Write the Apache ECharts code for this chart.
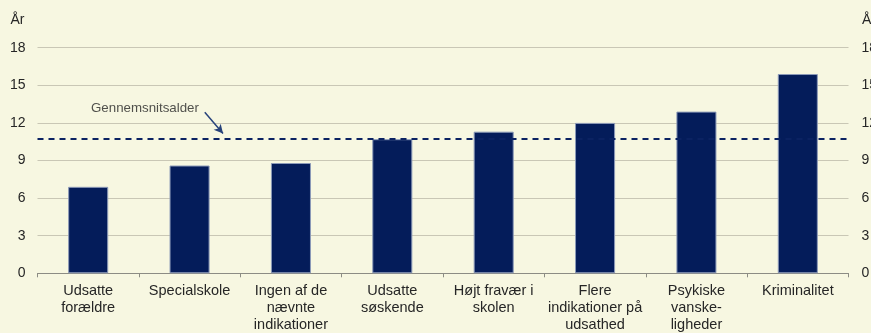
<!DOCTYPE html>
<html><head><meta charset="utf-8">
<script src="https://cdn.jsdelivr.net/npm/echarts@6/dist/echarts.min.js"></script>
<style>html,body{margin:0;padding:0;background:#f7f7e1;overflow:hidden;width:871px;height:333px;}#c{width:871px;height:333px;}</style>
</head><body><div id="c"></div>
<script>
var categories = ["Udsatte\nforældre","Specialskole","Ingen af de\nnævnte\nindikationer","Udsatte\nsøskende","Højt fravær i\nskolen","Flere\nindikationer på\nudsathed","Psykiske\nvanske-\nligheder","Kriminalitet"];
var values = [6.9, 8.6, 8.8, 10.7, 11.3, 12.0, 12.9, 15.9];
var averageAge = 10.7;
var annotationText = "Gennemsnitsalder";
var annotationTextPos = [1.06, 13.2];
var arrowFrom = [1.65, 12.85];
var arrowTo = [1.83, 11.15];
var yTicks = [0, 3, 6, 9, 12, 15, 18];

var font = "'Liberation Sans', Arial, sans-serif";
var chart = echarts.init(document.getElementById('c'), null, {width: 871, height: 333});
chart.setOption({
  backgroundColor: '#f7f7e1',
  animation: false,
  textStyle: {fontFamily: font},
  grid: {left: 37.5, right: 22.5, top: 47.7, bottom: 59.7, containLabel: false, outerBoundsMode: 'none'},
  xAxis: [{
    type: 'category', data: categories,
    axisLine: {lineStyle: {color: '#8c8c84', width: 1}},
    axisTick: {show: true, length: 4, lineStyle: {color: '#8c8c84'}},
    axisLabel: {color: '#262626', fontSize: 14.5, lineHeight: 17, margin: 9, interval: 0, fontFamily: font}
  }, {
    type: 'value', min: 0, max: 8, show: false
  }],
  yAxis: [{
    type: 'value', min: yTicks[0], max: yTicks[yTicks.length-1], interval: 3,
    name: 'År', nameLocation: 'end', nameGap: 21,
    nameTextStyle: {color: '#262626', fontSize: 14, align: 'right', padding: [0, 13, 0, 0], fontFamily: font},
    axisLine: {show: false}, axisTick: {show: false},
    axisLabel: {color: '#262626', fontSize: 14, margin: 12, fontFamily: font},
    splitLine: {lineStyle: {color: '#c9c7b5', width: 1}}
  }, {
    type: 'value', min: yTicks[0], max: yTicks[yTicks.length-1], interval: 3, position: 'right',
    name: 'År', nameLocation: 'end', nameGap: 21,
    nameTextStyle: {color: '#262626', fontSize: 14, align: 'left', padding: [0, 0, 0, 13.5], fontFamily: font},
    axisLine: {show: false}, axisTick: {show: false},
    axisLabel: {color: '#262626', fontSize: 14, margin: 13, fontFamily: font},
    splitLine: {show: false}
  }],
  series: [{
    type: 'bar', data: values, xAxisIndex: 0, yAxisIndex: 0,
    barWidth: '39.5%',
    itemStyle: {color: '#041c5a', borderColor: '#8c9ab8', borderWidth: 1},
    markLine: {
      silent: true, symbol: ['none', 'none'],
      label: {show: false},
      lineStyle: {color: '#0b2262', type: [6, 5], width: 2},
      data: [{yAxis: averageAge}]
    }
  }, {
    type: 'scatter', xAxisIndex: 1, yAxisIndex: 0,
    data: [annotationTextPos], symbolSize: 0,
    label: {show: true, position: 'inside', formatter: annotationText, color: '#262626', fontSize: 13.3, fontFamily: font},
    markLine: {
      silent: true, symbol: ['none', 'arrow'], symbolSize: [7, 9],
      label: {show: false},
      lineStyle: {color: '#27427a', type: 'solid', width: 1.5},
      data: [[{coord: arrowFrom}, {coord: arrowTo}]]
    }
  }]
});
</script></body></html>
